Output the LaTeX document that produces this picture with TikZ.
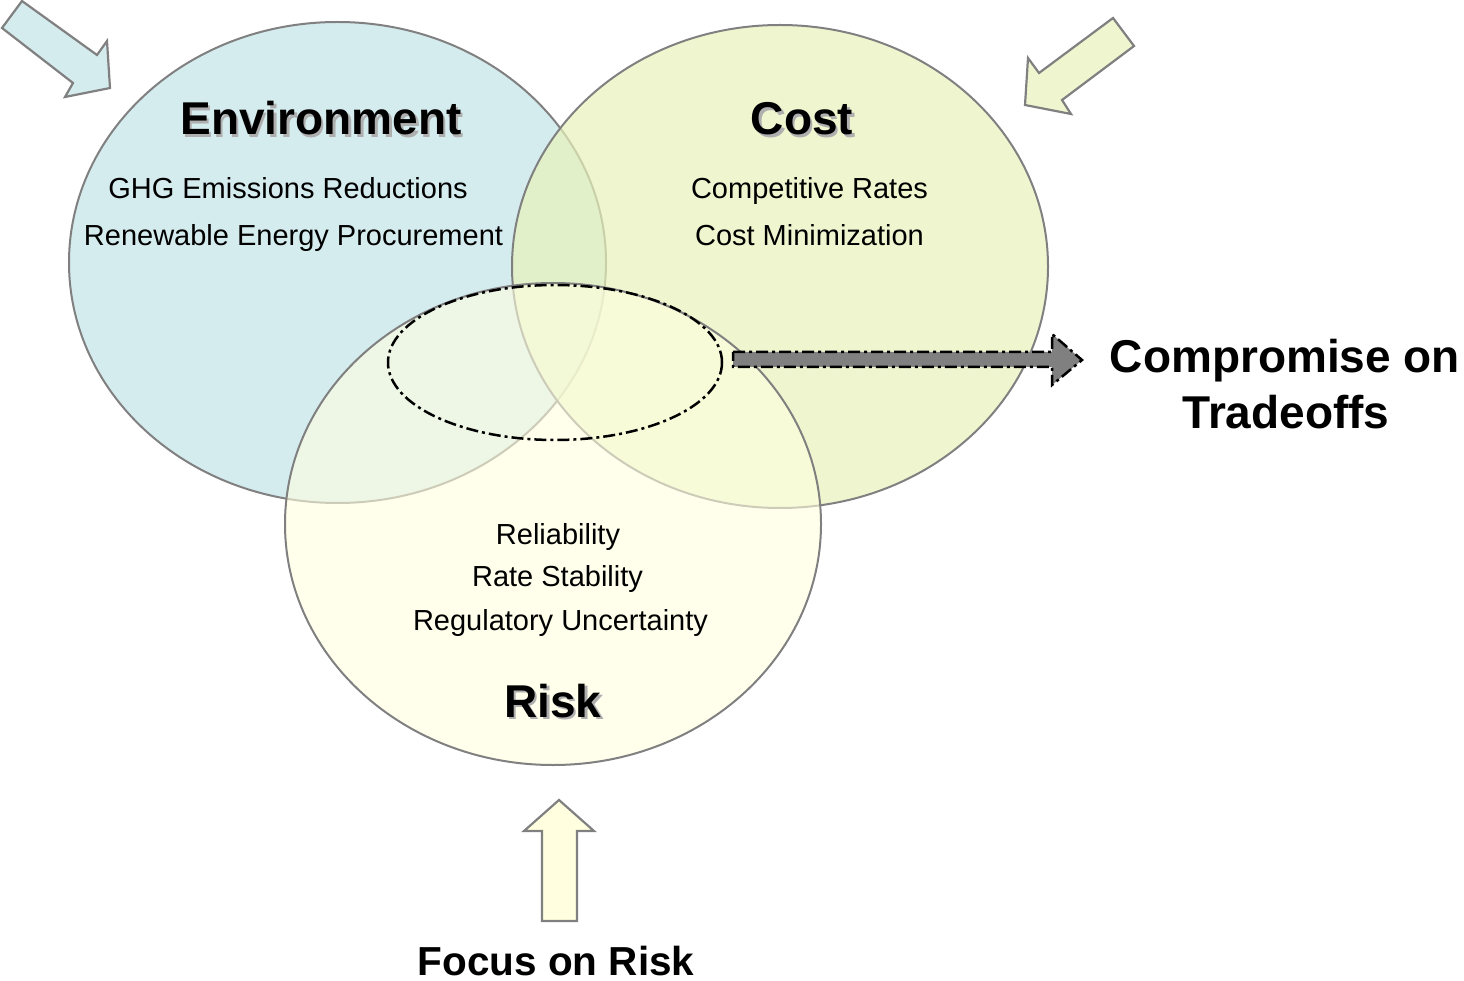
\documentclass[tikz,border=0pt]{standalone}
\usepackage{fontspec}
\setmainfont{Liberation Sans}
\usetikzlibrary{shapes.geometric}
\definecolor{envc}{RGB}{213,236,239}
\definecolor{costc}{RGB}{232,242,186}
\definecolor{riskc}{RGB}{255,255,224}
\definecolor{edge}{RGB}{128,128,128}
\definecolor{shad}{RGB}{175,175,175}
\tikzset{
  setc/.style={ellipse, draw=edge, line width=2pt, inner sep=0pt},
  blockarrow/.style={draw=edge, line width=2.2pt, line join=miter},
  dashdot/.style={line width=2.5pt, dash pattern=on 12pt off 4pt on 3pt off 4pt},
  title/.style={anchor=base, font=\fontsize{46}{50}\selectfont\bfseries},
  item/.style={anchor=base, font=\fontsize{29}{32}\selectfont},
  callout/.style={anchor=base, font=\fontsize{46}{50}\selectfont\bfseries},
}
\newcommand{\shadowtitle}[4]{%
  \node[title, text=shad] (#1s) at (#2+2.5,#3+2.5) {#4};
  \node[title] (#1) at (#2,#3) {#4};}
\begin{document}
\begin{tikzpicture}[x=1pt,y=-1pt]
\useasboundingbox (0,0) rectangle (1464,981);
% three sets
\node[setc, fill=envc, minimum width=537pt, minimum height=481pt] (env) at (337.5,262.5) {};
\node[setc, fill=costc, fill opacity=0.7, minimum width=536pt, minimum height=483pt] (cost) at (780,266.5) {};
\node[setc, fill=riskc, fill opacity=0.6, minimum width=536pt, minimum height=482pt] (risk) at (553,524) {};
% dash-dot focus ellipse
\node[ellipse, draw=black, dashdot, inner sep=0pt, minimum width=334pt, minimum height=155pt] (focus) at (555,362.5) {};
% grey outgoing arrow
\draw[fill=edge, draw=black, dashdot, line join=miter] (733,352) -- (1052,352) -- (1052,334) -- (1082,360) -- (1052,385) -- (1052,367) -- (733,367) -- cycle;
% incoming arrows
\draw[blockarrow, fill=envc] (22,1) -- (97,55) -- (107,41) -- (110,88) -- (65,97) -- (73,83) -- (2,28) -- cycle;
\draw[blockarrow, fill=costc!70] (1113,18) -- (1134,46) -- (1062,100) -- (1071,114) -- (1025,105) -- (1028,58) -- (1039,73) -- cycle;
\draw[blockarrow, fill=riskc] (542,921) -- (542,831) -- (524,831) -- (559,800) -- (594,831) -- (577,831) -- (577,921) -- cycle;
% titles
\shadowtitle{envt}{321}{135}{Environment}
\shadowtitle{costt}{802}{135}{Cost}
\shadowtitle{riskt}{553}{717}{Risk}
% items
\node[item] (e1) at (288,199) {GHG Emissions Reductions};
\node[item] (e2) at (293.5,246) {Renewable Energy Procurement};
\node[item] (c1) at (809.5,199) {Competitive Rates};
\node[item] (c2) at (809.5,246) {Cost Minimization};
\node[item] (r1) at (558,544) {Reliability};
\node[item] (r2) at (557.5,586) {Rate Stability};
\node[item] (r3) at (560.5,630) {Regulatory Uncertainty};
% callouts
\node[callout] (comp1) at (1285,373) {Compromise on};
\node[callout] (comp2) at (1286,428) {Tradeoffs};
\node[anchor=base, font=\fontsize{40.5}{44}\selectfont\bfseries] (focusrisk) at (556,975) {Focus on Risk};
\end{tikzpicture}
\end{document}
